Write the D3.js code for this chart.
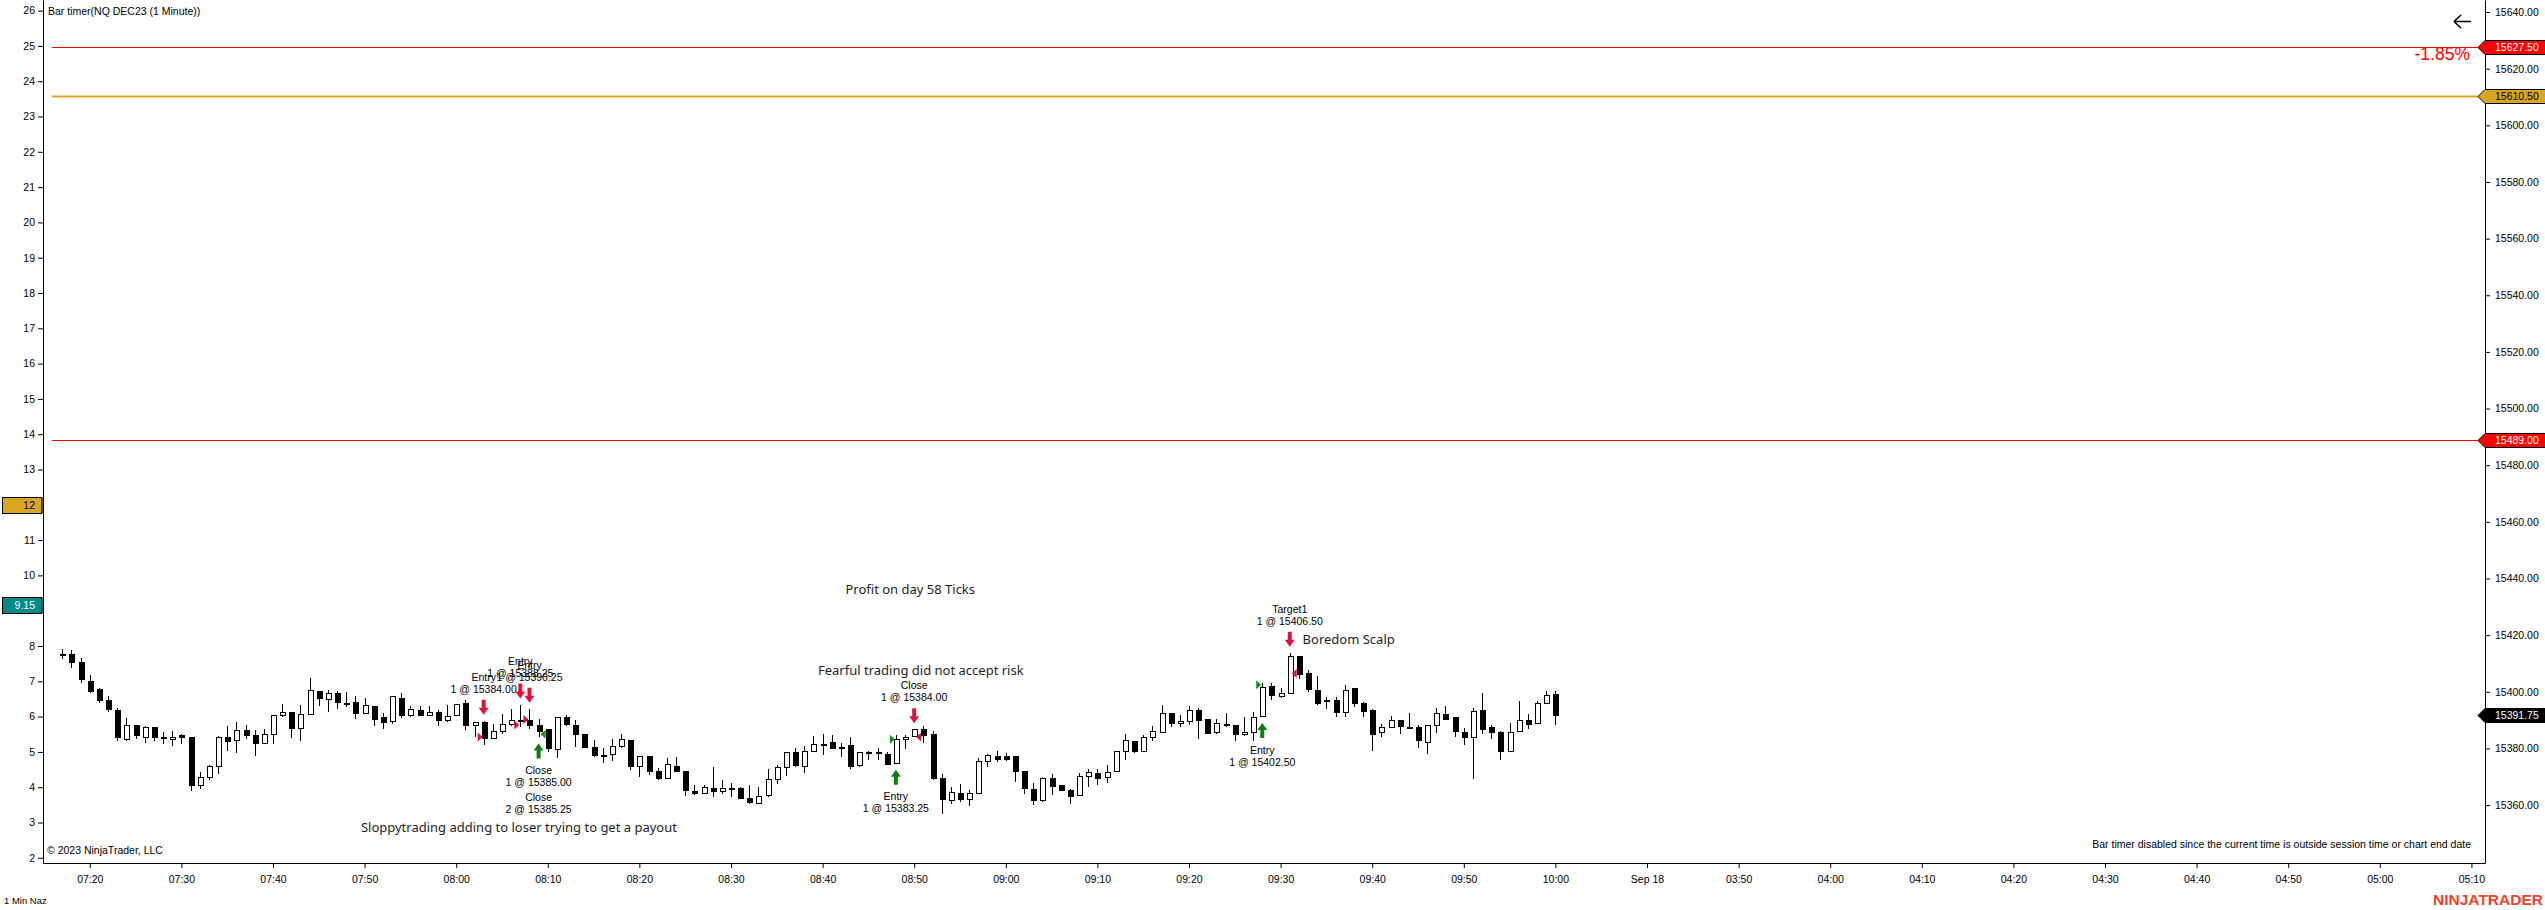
<!DOCTYPE html>
<html lang="en">
<head>
  <meta charset="UTF-8">
  <title>Bar timer NQ DEC23 (1 Minute)</title>
  <script src="https://d3js.org/d3.v7.min.js"></script>
  <style>
    html, body {
      margin: 0;
      padding: 0;
      background-color: #ffffff;
    }
    svg {
      display: block;
      font-family: 'Liberation Sans', Arial, sans-serif;
    }
    .axis text {
      font-size: 10.5px;
      fill: #000;
    }
    .axis line, .axis path {
      stroke: #000;
    }
    .small {
      font-size: 10.5px;
      fill: #000;
    }
    .note {
      font-family: 'Noto Sans', sans-serif;
      font-size: 13px;
      fill: #1e1e1e;
    }
  </style>
</head>
<body>
<svg id="chart" width="2545" height="910"></svg>
<script>
  // time axis labels, one every 10 bars starting at bar 3 (07:20)
  const timeLabels = ["07:20", "07:30", "07:40", "07:50", "08:00", "08:10", "08:20", "08:30", "08:40",
    "08:50", "09:00", "09:10", "09:20", "09:30", "09:40", "09:50", "10:00",
    "Sep 18", "03:50", "04:00", "04:10", "04:20", "04:30", "04:40", "04:50", "05:00", "05:10"];
  const priceTicks = [15360, 15380, 15400, 15420, 15440, 15460, 15480, 15500, 15520, 15540,
    15560, 15580, 15600, 15620, 15640];
  const leftTicks = [2, 3, 4, 5, 6, 7, 8, 9, 10, 11, 12, 13, 14, 15, 16, 17, 18, 19, 20, 21, 22, 23, 24, 25, 26];

  // 1 minute bars 07:17 .. 10:00
  const opens = [
    15413.25, 15413, 15410.25, 15403.75, 15400.75, 15397, 15393.5, 15383.25, 15388, 15384,
    15387.25, 15384, 15383.25, 15384.5, 15384, 15367, 15369.75, 15373.75, 15384, 15382.75,
    15386.25, 15384.5, 15381.75, 15385, 15391.75, 15392.75, 15387, 15392, 15400.25, 15397.25,
    15399.5, 15396, 15396.25, 15392.5, 15394.75, 15391, 15389.5, 15397.75, 15391.75, 15393.25,
    15391.75, 15392.75, 15389.75, 15391.75, 15396, 15388, 15389.25, 15383.5, 15386, 15388.5,
    15390, 15390, 15388, 15386.75, 15379.75, 15391, 15388, 15385, 15380.5, 15377.5,
    15377.75, 15380.75, 15382.75, 15373.5, 15377.25, 15371.75, 15369.5, 15373.5, 15372, 15364.75,
    15364, 15366, 15364.75, 15366, 15366, 15362.25, 15360.5, 15363.5, 15369, 15373.25,
    15378.5, 15373.75, 15379, 15381.5, 15382, 15380.25, 15381, 15374, 15378.5, 15378.5,
    15378, 15374.75, 15383.25, 15384.25, 15386.75, 15385, 15369.5, 15361.75, 15364.25, 15362,
    15364, 15375.25, 15377.25, 15377, 15377, 15372, 15365.5, 15361.5, 15369.5, 15367,
    15365.25, 15363.25, 15370, 15371.25, 15369.75, 15371.75, 15378.75, 15382.5, 15378.75, 15384,
    15385.75, 15392.5, 15388.75, 15389.5, 15393.5, 15390.25, 15385.5, 15388.5, 15388, 15384.75,
    15385.75, 15391.25, 15402, 15398.5, 15399.5, 15412.5, 15406.5, 15400.5, 15397, 15397,
    15392.75, 15401, 15396, 15393.5, 15385.75, 15387.5, 15389.75, 15387.5, 15387.25, 15382.25,
    15388, 15392, 15390.75, 15385.75, 15384, 15393.5, 15387.5, 15385.75, 15379, 15386,
    15390, 15388.75, 15396, 15399];
  const highs = [
    15415.25, 15414.75, 15412, 15406, 15401.5, 15398.5, 15394.25, 15390.75, 15388, 15387.75,
    15387.5, 15385.75, 15386, 15385, 15384, 15371.75, 15374, 15384.25, 15388, 15389.25,
    15388.25, 15386.5, 15386.75, 15391.75, 15395.75, 15393, 15395.25, 15404.75, 15400.25, 15400.5,
    15400.25, 15400, 15398.5, 15397.75, 15394.75, 15392.5, 15398.25, 15399.5, 15395, 15395,
    15395, 15393.5, 15395.5, 15395.5, 15397, 15389.25, 15389.75, 15388.75, 15392.25, 15394,
    15395.5, 15394, 15390.5, 15386.75, 15391, 15391.75, 15390, 15385, 15383, 15380,
    15383.25, 15385, 15382.75, 15377.25, 15377.25, 15373, 15376.75, 15377, 15372, 15367,
    15367.25, 15373.5, 15369, 15367.75, 15366.5, 15367.25, 15366.5, 15372.75, 15374, 15378.5,
    15380, 15381, 15384.5, 15385.25, 15384.75, 15381.75, 15384, 15378.75, 15379.25, 15380,
    15378.75, 15384.75, 15384.75, 15386.75, 15387.75, 15386, 15371, 15366.5, 15367.5, 15365.5,
    15376.5, 15378, 15379.25, 15378.5, 15377, 15372, 15367.75, 15370, 15371, 15367,
    15365.75, 15371.25, 15372.75, 15372.75, 15374, 15379.25, 15385, 15382.5, 15384.75, 15388,
    15395.25, 15392.5, 15391.75, 15395, 15394.25, 15390.25, 15390.25, 15392.5, 15388, 15391.25,
    15392.75, 15403, 15403.25, 15401.25, 15413.75, 15412.75, 15407.75, 15405.5, 15398, 15398,
    15402.25, 15401, 15396.5, 15393.75, 15388.5, 15391.5, 15389.75, 15392.5, 15388.25, 15388.25,
    15394.25, 15395, 15390.75, 15387.25, 15394.25, 15399.5, 15388.25, 15386.25, 15389, 15396.75,
    15392, 15396.75, 15400.25, 15400.25];
  const lows = [
    15411.5, 15408.25, 15403, 15399.5, 15396, 15393, 15382.5, 15382.75, 15383.25, 15381.75,
    15382.5, 15381.5, 15381, 15381.5, 15365, 15365.75, 15369, 15371, 15379.25, 15378.5,
    15383.25, 15377.25, 15381.5, 15381.5, 15391, 15383.75, 15382.5, 15392, 15395, 15392.75,
    15394, 15394.75, 15390.25, 15392, 15388, 15386.75, 15388.75, 15390.75, 15391, 15391.5,
    15391.5, 15387.75, 15389.5, 15391.5, 15386.5, 15384, 15381.25, 15383.25, 15385, 15387.75,
    15387.5, 15387, 15384, 15378.75, 15376.5, 15388, 15380.5, 15380, 15377, 15375,
    15375.5, 15380, 15372.5, 15369.75, 15370.75, 15369, 15369.25, 15371.75, 15363.25, 15363.5,
    15363.75, 15363, 15364, 15362.75, 15362, 15360.25, 15360.25, 15363, 15367.5, 15370.25,
    15373.5, 15371.5, 15378.75, 15377.75, 15379.75, 15377, 15372.75, 15373.5, 15376, 15376,
    15374, 15374.75, 15379.75, 15384, 15382, 15369, 15356.75, 15360.5, 15361.25, 15359.75,
    15364, 15373.5, 15375.25, 15375.5, 15368, 15364, 15360, 15361.25, 15363.5, 15365,
    15360.25, 15363.25, 15366.5, 15367.25, 15367.75, 15371.75, 15376, 15378.25, 15378.75, 15382.75,
    15385.75, 15387.5, 15387.5, 15388.25, 15383.25, 15385.25, 15385.25, 15387.5, 15382.75, 15384.25,
    15382.75, 15391.25, 15397, 15397.75, 15399.5, 15404.5, 15400, 15395.5, 15394, 15391.25,
    15391.25, 15394.5, 15391.25, 15379.25, 15384, 15387.25, 15385, 15386.75, 15380.25, 15378,
    15385.5, 15390, 15384, 15381.25, 15369.25, 15385, 15383.5, 15376, 15379, 15386,
    15387, 15388.75, 15396, 15388.25];
  const closes = [
    15413, 15410.5, 15404.25, 15400.25, 15397, 15393.75, 15384, 15388, 15384.5, 15387.5,
    15384, 15383.5, 15384, 15384, 15366.75, 15369.75, 15373.75, 15384, 15382.5, 15386.25,
    15384.5, 15381.75, 15385, 15391.75, 15392.75, 15387, 15392, 15400.5, 15397.5, 15399.5,
    15396.25, 15396, 15392.25, 15395.25, 15390.25, 15389.25, 15398.25, 15391.5, 15393.75, 15391.5,
    15392.75, 15389.75, 15391.25, 15395.5, 15388.25, 15389.25, 15383.5, 15386, 15388.5, 15390,
    15390, 15388, 15386, 15380, 15391, 15388.5, 15385, 15380.25, 15377.5, 15377.5,
    15380.75, 15383, 15373.5, 15377, 15371.75, 15369.5, 15374.25, 15371.75, 15365, 15364,
    15366.25, 15364.75, 15366, 15366, 15362.25, 15360.75, 15363, 15369, 15373.25, 15378.5,
    15374, 15379, 15381.5, 15381.5, 15380, 15380.25, 15373.5, 15378.5, 15378.5, 15378.25,
    15374.25, 15383.25, 15384, 15386.75, 15384.5, 15369.25, 15362, 15364.5, 15362, 15364.25,
    15375.5, 15377.5, 15376.25, 15376, 15371.75, 15365.75, 15361.75, 15369.25, 15366.5, 15365,
    15363, 15370.25, 15371.5, 15369.25, 15371.5, 15379, 15382.75, 15378.75, 15384, 15386,
    15392.5, 15388.75, 15389.5, 15393.5, 15390, 15385.25, 15388.75, 15388, 15385, 15385.75,
    15391, 15401.5, 15398.75, 15399.5, 15412.5, 15406.25, 15400.75, 15396, 15397, 15392.75,
    15400.5, 15396, 15393, 15385, 15387.5, 15389.75, 15387.75, 15387.5, 15382.75, 15388.25,
    15392.5, 15390.25, 15386, 15384, 15393, 15386.75, 15385.5, 15379, 15385.75, 15390,
    15388.5, 15396, 15398.75, 15391.75];

  // horizontal price levels and the right-axis markers
  const levelPrices = [15627.5, 15610.5, 15489.0];
  const markerPrices = [15627.5, 15610.5, 15489.0, 15391.75];
  // indicator values marked on the left axis (they cover the plain tick labels)
  const leftMarkers = [12, 9.15];

  // trade executions
  const execBars = [46, 50, 51, 52, 91, 93, 131, 134];
  const execSides = ["sell", "sell", "sell", "buy", "buy", "sell", "buy", "sell"];
  const execKinds = ["entry", "entry", "entry", "exit", "entry", "exit", "entry", "exit"];
  const execPrices = [15384.00, 15388.25, 15390.25, 15385.00, 15383.25, 15384.00, 15402.50, 15406.50];
  const execLabels = [
    ["Entry", "1 @ 15384.00"],
    ["Entry", "1 @ 15388.25"],
    ["Entry", "1 @ 15390.25"],
    ["Close", "1 @ 15385.00", "Close", "2 @ 15385.25"],
    ["Entry", "1 @ 15383.25"],
    ["Close", "1 @ 15384.00"],
    ["Entry", "1 @ 15402.50"],
    ["Target1", "1 @ 15406.50"]
  ];

  // free text notes drawn on the chart
  const noteBars = [85.5, 82.5, 32.6, 135.4];
  const notePrices = [15436.3, 15407.5, 15352.2, 15418.6];
  const noteTexts = ["Profit on day 58 Ticks", "Fearful trading did not accept risk",
    "Sloppytrading adding to loser trying to get a payout", "Boredom Scalp"];

  const svg = d3.select("#chart");
  const W = 2545, H = 910;
  const plot = { left: 43, right: 2485, top: 0, bottom: 863 };

  const x = d3.scaleLinear().domain([0, 163]).range([62.3, 1555.4]);
  const y = d3.scaleLinear().domain([15339.55, 15644.25]).range([plot.bottom, plot.top]);
  const yLeft = d3.scaleLinear().domain([1.853, 26.3]).range([plot.bottom, plot.top]);

  // price levels
  const levelStyle = [
    { color: "#ff0000", width: 1 },
    { color: "#daa520", width: 2 },
    { color: "#ff0000", width: 1 }
  ];
  svg.append("g").selectAll("line").data(levelPrices).join("line")
    .attr("x1", 52).attr("x2", plot.right - 7)
    .attr("y1", d => Math.round(y(d)) + 0.5).attr("y2", d => Math.round(y(d)) + 0.5)
    .attr("stroke", (d, i) => levelStyle[i].color)
    .attr("stroke-width", (d, i) => levelStyle[i].width);

  // candles
  const bars = d3.range(opens.length);
  const candles = svg.append("g").attr("shape-rendering", "crispEdges");
  candles.selectAll("line").data(bars).join("line")
    .attr("x1", i => Math.round(x(i)) + 0.5).attr("x2", i => Math.round(x(i)) + 0.5)
    .attr("y1", i => y(highs[i])).attr("y2", i => y(lows[i]))
    .attr("stroke", "#000").attr("stroke-width", 1);
  candles.selectAll("rect").data(bars).join("rect")
    .attr("x", i => Math.round(x(i)) - 2)
    .attr("width", 5)
    .attr("y", i => y(Math.max(opens[i], closes[i])))
    .attr("height", i => Math.max(1, Math.abs(y(opens[i]) - y(closes[i]))))
    .attr("fill", i => closes[i] > opens[i] ? "#fff" : "#000")
    .attr("stroke", "#000").attr("stroke-width", 1);

  // executions: small triangles at the fill price, arrows and labels
  const execG = svg.append("g");
  execBars.forEach((b, k) => {
    const cx = x(b), py = y(execPrices[k]);
    const col = execSides[k] === "buy" ? "#1a8a1a" : "#dc143c";
    const pts = execKinds[k] === "entry"
      ? [[cx - 6, py - 4.5], [cx - 1, py], [cx - 6, py + 4.5]]
      : [[cx + 7, py - 4.5], [cx + 2, py], [cx + 7, py + 4.5]];
    execG.append("path").attr("d", d3.line()(pts) + "Z").attr("fill", col);

    let tip, dir;
    if (execSides[k] === "buy") { tip = y(lows[b]) + 6.5; dir = -1; }
    else { tip = y(highs[b]) - 6; dir = 1; }
    const base = tip - dir * 15, neck = tip - dir * 7;
    const arrow = [[cx - 2, base], [cx + 2, base], [cx + 2, neck], [cx + 5, neck], [cx, tip],
      [cx - 5, neck], [cx - 2, neck]];
    const arrowCol = execSides[k] === "buy" ? "#0d7d0d" : "#dc143c";
    execG.append("path").attr("d", d3.line()(arrow) + "Z").attr("fill", arrowCol);

    const lines = execLabels[k];
    lines.forEach((t, j) => {
      let cy;
      if (execSides[k] === "buy") {
        cy = base + 12 + j * 12 + Math.floor(j / 2) * 3;
      } else {
        cy = base - 10.5 - (lines.length - 1 - j) * 12;
      }
      execG.append("text").attr("class", "small")
        .attr("x", cx).attr("y", cy).attr("dy", "0.35em")
        .attr("text-anchor", "middle").text(t);
    });
  });

  // notes
  svg.append("g").selectAll("text").data(noteTexts).join("text")
    .attr("class", "note")
    .attr("x", (d, i) => x(noteBars[i]))
    .attr("y", (d, i) => y(notePrices[i]))
    .attr("dy", "0.35em")
    .text(d => d);

  // left axis (labels under the indicator markers are hidden, as in the platform)
  svg.append("g").attr("class", "axis")
    .attr("transform", `translate(${plot.left},0)`)
    .call(d3.axisLeft(yLeft).tickValues(leftTicks)
      .tickFormat(d => leftMarkers.some(m => Math.abs(m - d) < 0.5) ? "" : d3.format("d")(d))
      .tickSize(5).tickSizeOuter(0).tickPadding(3));

  // right axis
  svg.append("g").attr("class", "axis")
    .attr("transform", `translate(${plot.right},0)`)
    .call(d3.axisRight(y).tickValues(priceTicks).tickFormat(d3.format(".2f"))
      .tickSize(5).tickSizeOuter(0).tickPadding(5));

  // bottom axis
  const tickBars = timeLabels.map((t, i) => 3 + i * 10);
  const xAxis = svg.append("g").attr("class", "axis")
    .attr("transform", `translate(0,${plot.bottom})`)
    .call(d3.axisBottom(x).tickValues(tickBars).tickFormat((d, i) => timeLabels[i])
      .tickSize(5).tickPadding(8));
  xAxis.select(".domain").remove();
  xAxis.append("line").attr("x1", plot.left).attr("x2", plot.right + 0.5)
    .attr("y1", 0.5).attr("y2", 0.5).attr("stroke", "#000");

  // right axis price markers
  const markerStyle = [
    { fill: "#ff0000", text: "#fff" },
    { fill: "#daa520", text: "#000" },
    { fill: "#ff0000", text: "#fff" },
    { fill: "#000000", text: "#fff" }
  ];
  const mk = svg.append("g");
  markerPrices.forEach((p, i) => {
    const cy = Math.round(y(p)) + 0.5;
    const pts = [[plot.right - 7, cy], [plot.right, cy - 7], [W + 2, cy - 7], [W + 2, cy + 7], [plot.right, cy + 7]];
    mk.append("path").attr("d", d3.line()(pts) + "Z")
      .attr("fill", markerStyle[i].fill).attr("stroke", "#000").attr("stroke-width", 1);
    mk.append("text").attr("class", "small").attr("x", plot.right + 10).attr("y", cy)
      .attr("dy", "0.35em").style("fill", markerStyle[i].text).text(d3.format(".2f")(p));
  });

  // left axis indicator markers
  const leftStyle = [
    { fill: "#daa520", text: "#000" },
    { fill: "#008b8b", text: "#fff" }
  ];
  leftMarkers.forEach((v, i) => {
    const cy = Math.round(yLeft(v)) + 0.5;
    mk.append("rect").attr("x", 2.5).attr("y", cy - 8).attr("width", 39).attr("height", 16)
      .attr("fill", leftStyle[i].fill).attr("stroke", "#000").attr("stroke-width", 1);
    mk.append("rect").attr("x", 41.5).attr("y", cy - 8).attr("width", 1.5).attr("height", 16)
      .attr("fill", "#555");
    mk.append("text").attr("class", "small").attr("x", 35).attr("y", cy).attr("dy", "0.35em")
      .attr("text-anchor", "end").style("fill", leftStyle[i].text).text(v);
  });

  // header and footer texts
  svg.append("text").attr("class", "small").attr("x", 48).attr("y", 11).attr("dy", "0.35em")
    .text("Bar timer(NQ DEC23 (1 Minute))");
  svg.append("text").attr("class", "small").attr("x", 47).attr("y", 850).attr("dy", "0.35em")
    .text("\u00a9 2023 NinjaTrader, LLC");
  svg.append("text").attr("class", "small").attr("x", 2471).attr("y", 844).attr("dy", "0.35em")
    .attr("text-anchor", "end")
    .text("Bar timer disabled since the current time is outside session time or chart end date");
  svg.append("text").attr("x", 4).attr("y", 901).attr("dy", "0.35em")
    .style("font-size", "9.5px").text("1 Min Naz");
  svg.append("text").attr("x", 2543).attr("y", 900).attr("dy", "0.35em")
    .attr("text-anchor", "end")
    .style("font-size", "15.5px").style("font-weight", "bold").style("fill", "#e8452c")
    .text("NINJATRADER");

  svg.append("text").attr("x", 2470).attr("y", 53.5).attr("dy", "0.35em")
    .attr("text-anchor", "end")
    .style("font-size", "17.5px").style("fill", "#ff0000")
    .text("-1.85%");

  // back arrow icon
  svg.append("path")
    .attr("d", "M2454,21.5 L2471,21.5 M2454,21.5 L2461,15 M2454,21.5 L2461,28")
    .attr("fill", "none").attr("stroke", "#000").attr("stroke-width", 1.6);
</script>
</body>
</html>
